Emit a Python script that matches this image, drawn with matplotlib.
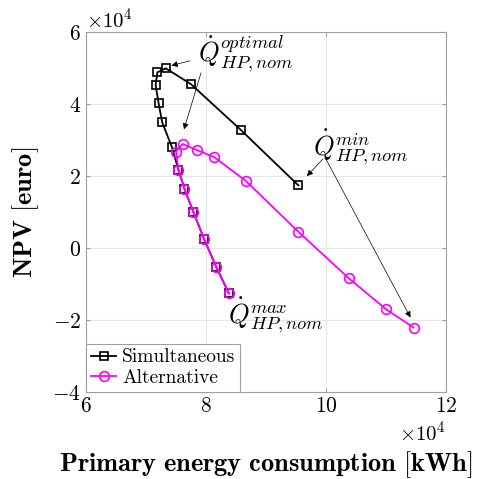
import numpy as np
import matplotlib
matplotlib.use("Agg")
import matplotlib.pyplot as plt

plt.rcParams['font.family'] = 'serif'
plt.rcParams['font.serif'] = ['cmr10']
plt.rcParams['mathtext.fontset'] = 'cm'
plt.rcParams['axes.formatter.use_mathtext'] = True
plt.rcParams['axes.unicode_minus'] = False

# primary energy [kWh] and NPV [euro]
sim_x = [95400, 85800, 77500, 73300, 71900, 71600, 72100, 72700, 74300,
         75400, 76400, 77900, 79700, 81700, 83800]
sim_y = [17400, 32800, 45500, 49900, 48800, 45300, 40200, 34900, 28100,
         21800, 16500, 10000, 2400, -5200, -12600]
alt_x = [114600, 110000, 103800, 95400, 86600, 81400, 78500, 76100, 75000,
         75400, 76400, 77900, 79700, 81700, 83800]
alt_y = [-22100, -17000, -8400, 4500, 18700, 25200, 27200, 28900, 26800,
         21800, 16500, 10000, 2400, -5200, -12600]

fig = plt.figure(figsize=(4.87, 4.79), dpi=100)
ax = fig.add_axes([0.1766, 0.1816, 0.7392, 0.7516])

ax.plot(sim_x, sim_y, '-s', color='k', lw=1.3, ms=6, mfc='none', mew=1.2,
        label='Simultaneous')
ax.plot(alt_x, alt_y, '-o', color='#ff00ff', lw=1.3, ms=7, mfc='none', mew=1.2,
        label='Alternative')

ax.set_xlim(60000, 120000)
ax.set_ylim(-40000, 60000)
ax.set_xticks([60000, 80000, 100000, 120000])
ax.set_yticks(np.arange(-40000, 60001, 20000))
ax.ticklabel_format(style='sci', scilimits=(4, 4), useMathText=True)
ax.xaxis.get_offset_text().set_fontsize(15)
ax.yaxis.get_offset_text().set_fontsize(15)
ax.tick_params(direction='in', labelsize=15.5, color='#a0a0a0', length=3,
               top=True, right=True)
for s in ax.spines.values():
    s.set_color('#a0a0a0')
ax.grid(True, color='#e6e6e6', lw=0.8)
ax.set_axisbelow(True)

ax.set_xlabel(r'$\mathbf{Primary\ energy\ consumption\ [kWh]}$', fontsize=19,
              labelpad=24)
ax.set_ylabel(r'$\mathbf{NPV\ [euro]}$', fontsize=19, labelpad=8)

arr = dict(arrowstyle='-|>', color='k', lw=0.5, mutation_scale=9)
ax.text(78700, 51700, r'$\dot{Q}_{HP,nom}^{optimal}$', fontsize=19,
        va='baseline')
ax.annotate('', xy=(73800, 50500), xytext=(77800, 52200), arrowprops=arr)
ax.annotate('', xy=(76200, 32200), xytext=(79300, 49400), arrowprops=arr)
ax.text(97800, 25800, r'$\dot{Q}_{HP,nom}^{min}$', fontsize=19,
        va='baseline')
ax.annotate('', xy=(96500, 19400), xytext=(99800, 25300), arrowprops=arr)
ax.annotate('', xy=(114300, -20000), xytext=(99800, 25300), arrowprops=arr)
ax.text(83700, -20800, r'$\dot{Q}_{HP,nom}^{max}$', fontsize=19,
        va='baseline')

leg = ax.legend(loc='lower left', fontsize=14, frameon=True, fancybox=False,
                handlelength=1.3, handletextpad=0.3, borderpad=0.25,
                borderaxespad=0.0, labelspacing=0.15, framealpha=1)
leg.get_frame().set_edgecolor('#a0a0a0')
leg.get_frame().set_linewidth(0.8)

fig.savefig('out.png', dpi=100)
